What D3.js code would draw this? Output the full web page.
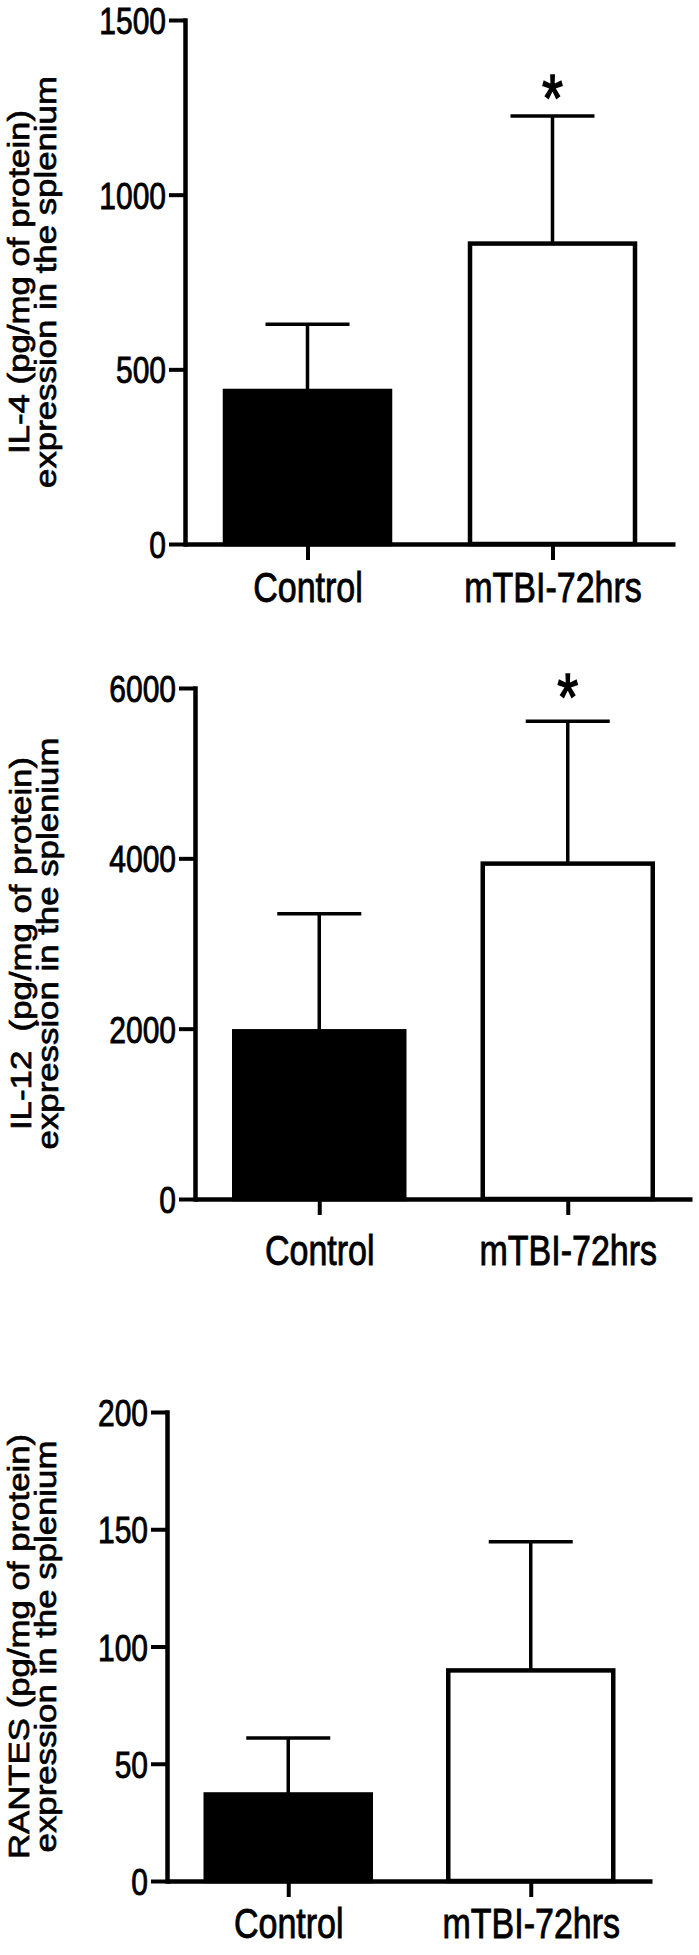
<!DOCTYPE html>
<html>
<head>
<meta charset="utf-8">
<script src="https://cdn.jsdelivr.net/npm/d3@7"></script>
<style>
  body { margin: 0; background: #fff; }
  svg { display: block; }
  text { font-family: "Liberation Sans", Arial, sans-serif; fill: #000; stroke: #000; stroke-width: 0.7px; }
</style>
</head>
<body>
<svg id="chart" width="699" height="1955"></svg>
<script>
// groups on the x axis
const groups = ['Control', 'mTBI-72hrs'];

// IL-4
const il4Mean = [438, 860];
const il4Sem = [191, 365];
const il4Sig = [false, true];
const il4Ticks = [0, 500, 1000, 1500];

// IL-12
const il12Mean = [1969, 3938];
const il12Sem = [1381, 1673];
const il12Sig = [false, true];
const il12Ticks = [0, 2000, 4000, 6000];

// RANTES
const rantesMean = [36.9, 89.8];
const rantesSem = [24.1, 54.9];
const rantesSig = [false, false];
const rantesTicks = [0, 50, 100, 150, 200];

const fills = ['#000', '#fff'];
const stretch = 1.25;     // horizontal text looks stretched vertically
const labelStretch = 1.16; // rotated axis titles

// layout for each panel (pixels)
const panels = [
  {mean: il4Mean, sem: il4Sem, sig: il4Sig, ticks: il4Ticks,
   label: 'IL-4 (pg/mg of protein)',
   left: 185, right: 675, top: 20, bottom: 544, barW: 165, labelDy: 58, starDy: 34, titleX: 29},
  {mean: il12Mean, sem: il12Sem, sig: il12Sig, ticks: il12Ticks,
   label: 'IL-12\u00a0\u00a0(pg/mg of protein)',
   left: 195, right: 692, top: 688, bottom: 1199, barW: 170, labelDy: 66, starDy: 40, titleX: 31},
  {mean: rantesMean, sem: rantesSem, sig: rantesSig, ticks: rantesTicks,
   label: 'RANTES (pg/mg of protein)',
   left: 167, right: 652, top: 1412, bottom: 1881, barW: 165, labelDy: 57, starDy: 36, titleX: 29}
];

const svg = d3.select('#chart');
svg.append('rect').attr('width', 699).attr('height', 1955).attr('fill', '#fff');

panels.forEach(p => {
  const g = svg.append('g');
  const x = d3.scalePoint().domain(groups).range([p.left, p.right]).padding(0.5);
  const y = d3.scaleLinear()
    .domain([0, d3.max(p.ticks)])
    .range([p.bottom, p.top]);

  const data = groups.map((name, i) => ({name, mean: p.mean[i], sem: p.sem[i], sig: p.sig[i], fill: fills[i]}));

  // error bars (upper only)
  const eb = g.append('g')
    .attr('stroke', '#000')
    .attr('stroke-width', 3.5);
  eb.selectAll('line.v')
    .data(data)
    .join('line')
    .attr('class', 'v')
    .attr('x1', d => x(d.name))
    .attr('x2', d => x(d.name))
    .attr('y1', d => y(d.mean))
    .attr('y2', d => y(d.mean + d.sem));
  eb.selectAll('line.cap')
    .data(data)
    .join('line')
    .attr('class', 'cap')
    .attr('x1', d => x(d.name) - 42)
    .attr('x2', d => x(d.name) + 42)
    .attr('y1', d => y(d.mean + d.sem))
    .attr('y2', d => y(d.mean + d.sem));

  // bars
  g.append('g')
    .selectAll('rect')
    .data(data)
    .join('rect')
    .attr('x', d => x(d.name) - p.barW / 2)
    .attr('width', p.barW)
    .attr('y', d => y(d.mean))
    .attr('height', d => y(0) - y(d.mean))
    .attr('fill', d => d.fill)
    .attr('stroke', '#000')
    .attr('stroke-width', 4.5);

  // significance stars
  g.append('g')
    .selectAll('text')
    .data(data.filter(d => d.sig))
    .join('text')
    .attr('transform', d => `translate(${x(d.name)},${y(d.mean + d.sem) - p.starDy}) scale(1,${stretch})`)
    .attr('text-anchor', 'middle')
    .attr('dy', '0.58em')
    .style('font-size', '54px')
    .style('stroke-width', '1.2px')
    .text('*');

  // y axis
  const yAxis = g.append('g')
    .attr('transform', `translate(${p.left},0)`)
    .call(d3.axisLeft(y).tickValues(p.ticks).tickSize(16).tickSizeOuter(0).tickPadding(3).tickFormat(d3.format('d')));
  yAxis.select('.domain').attr('stroke-width', 4.5).attr('stroke-linecap', 'square');
  yAxis.selectAll('.tick line').attr('stroke-width', 4);
  yAxis.selectAll('.tick text')
    .attr('transform', `scale(1,${stretch})`)
    .attr('dy', '0.36em')
    .style('font-size', '30px')
    .attr('font-family', null);

  // x axis
  const xAxis = g.append('g')
    .attr('transform', `translate(0,${y(0)})`)
    .call(d3.axisBottom(x).tickSize(16).tickSizeOuter(0));
  xAxis.select('.domain').attr('stroke-width', 4.5);
  xAxis.selectAll('.tick line').attr('stroke-width', 4);
  xAxis.selectAll('.tick text')
    .attr('y', 0)
    .attr('dy', null)
    .attr('transform', `translate(0,${p.labelDy}) scale(1,${stretch})`)
    .style('font-size', '34px')
    .attr('font-family', null);

  // y label, two lines
  const cy = (p.top + p.bottom) / 2;
  [p.label, 'expression in the splenium'].forEach((t, i) => {
    g.append('text')
      .attr('transform', `translate(${p.titleX + i * 27},${cy}) rotate(-90) scale(${labelStretch},1)`)
      .attr('text-anchor', 'middle')
      .style('font-size', '30px')
      .text(t);
  });
});
</script>
</body>
</html>
